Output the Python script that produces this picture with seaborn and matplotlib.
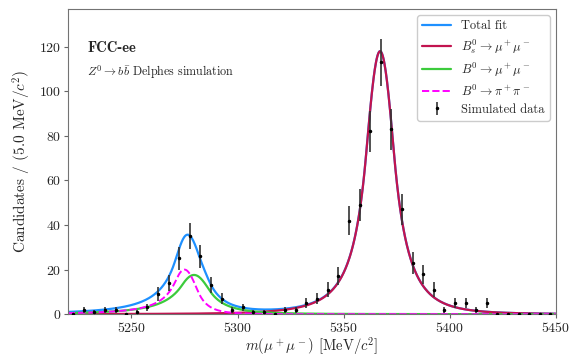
import numpy as np
import pandas as pd
import matplotlib
matplotlib.use("Agg")
import matplotlib.pyplot as plt
import seaborn as sns

# -----------------------------------------
# Data: 5 MeV bins of simulated candidates
# -----------------------------------------
bin_centres = [5222.5 + 5 * i for i in range(46)]
counts = [0, 2, 1, 2, 2, 0, 1, 3, 9, 14,
          25, 35, 26, 13, 7, 2, 3, 1, 1, 0,
          2, 2, 5, 7, 11, 17, 42, 49, 82, 113,
          83, 47, 23, 18, 11, 2, 5, 5, 2, 5,
          0, 0, 0, 0, 0, 0]

# fit components: peak height, mean, sigma, alphaL, nL, alphaR, nR
bs_mumu = [118.0, 5367.2, 6.6, 1.0, 4.0, 1.0, 5.0]
b0_mumu = [17.6, 5279.5, 7.3, 0.8, 3.0, 1.0, 4.0]
b0_pipi = [20.0, 5275.0, 5.5, 0.8, 2.5, 1.2, 6.0]

mass_range = (5220, 5450)


def dscb(x, height, mu, sigma, aL, nL, aR, nR):
    t = (x - mu) / sigma
    out = np.exp(-0.5 * t ** 2)
    lo = t < -aL
    hi = t > aR
    AL = (nL / aL) ** nL * np.exp(-0.5 * aL ** 2)
    AR = (nR / aR) ** nR * np.exp(-0.5 * aR ** 2)
    out[lo] = AL * (nL / aL - aL - t[lo]) ** (-nL)
    out[hi] = AR * (nR / aR - aR + t[hi]) ** (-nR)
    return height * out


xs = np.linspace(mass_range[0], mass_range[1], 1200)
curves = pd.DataFrame({
    "m": xs,
    "bs": dscb(xs, *bs_mumu),
    "b0": dscb(xs, *b0_mumu),
    "pipi": dscb(xs, *b0_pipi),
})
curves["total"] = curves["bs"] + curves["b0"] + curves["pipi"]

data = pd.DataFrame({"m": bin_centres, "n": counts})
data["err"] = np.sqrt(data["n"])

# -----------------------------------------
# Style
# -----------------------------------------
sns.set_style("ticks")
plt.rcParams["font.family"] = "serif"
plt.rcParams["font.serif"] = ["cmr10", "DejaVu Serif"]
plt.rcParams["mathtext.fontset"] = "cm"
plt.rcParams["axes.unicode_minus"] = False
plt.rcParams["axes.formatter.use_mathtext"] = True

fig, ax = plt.subplots(figsize=(5.7, 3.57), dpi=100)
fig.subplots_adjust(left=0.119, right=0.975, bottom=0.12, top=0.975)

sns.lineplot(data=curves, x="m", y="total", color="#1E90FF", lw=1.6,
             label="Total fit", ax=ax)
sns.lineplot(data=curves, x="m", y="bs", color="#C2134F", lw=1.6,
             label=r"$B_s^0 \to \mu^+\mu^-$", ax=ax)
sns.lineplot(data=curves, x="m", y="b0", color="#3CCB3C", lw=1.6,
             label=r"$B^0 \to \mu^+\mu^-$", ax=ax)
sns.lineplot(data=curves, x="m", y="pipi", color="magenta", lw=1.4,
             ls="--", label=r"$B^0 \to \pi^+\pi^-$", ax=ax)
ax.errorbar(data["m"], data["n"], yerr=data["err"], fmt=".", color="black",
            ecolor="#333333", markersize=3, elinewidth=1.2, capsize=0,
            label="Simulated data", zorder=5)

ax.set_xlim(*mass_range)
ax.set_ylim(0, 137)
ax.set_xticks([5250, 5300, 5350, 5400, 5450])
ax.set_yticks([0, 20, 40, 60, 80, 100, 120])
ax.tick_params(labelsize=10, length=3, pad=2, color="0.4")
for s in ax.spines.values():
    s.set_color("0.45")

ax.set_xlabel(r"$m(\mu^+\mu^-)$ [MeV/$c^2$]", fontsize=10.5, labelpad=0)
ax.set_ylabel(r"Candidates / (5.0 MeV/$c^2$)", fontsize=11, labelpad=4)

ax.text(0.04, 0.86, "FCC-ee", transform=ax.transAxes, fontsize=10.5,
        family="cmb10", fontweight="bold")
ax.text(0.04, 0.78, r"$Z^0 \to b\bar{b}$ Delphes simulation",
        transform=ax.transAxes, fontsize=8.7)

ax.legend(loc="upper right", fontsize=9, handlelength=2.3,
          labelspacing=0.4, borderaxespad=0.5, framealpha=1)

fig.savefig("out.png", dpi=100)
